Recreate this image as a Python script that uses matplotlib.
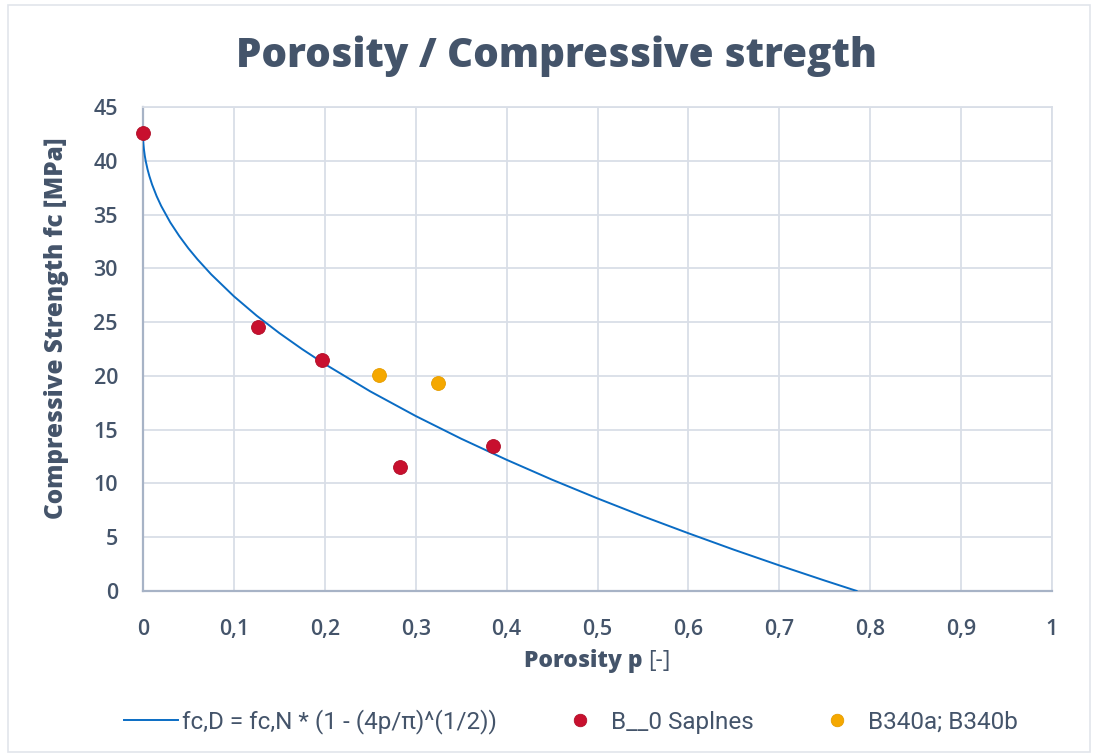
import matplotlib
matplotlib.use("Agg")
import matplotlib.pyplot as plt
from matplotlib.patches import Rectangle

# Model curve fc,D (porosity p, strength MPa)
curve_p = [0, 0.0001, 0.0002, 0.0003, 0.0005, 0.001, 0.002, 0.003, 0.005, 0.007, 0.01,
           0.015, 0.02, 0.03, 0.04, 0.05, 0.06, 0.075, 0.1, 0.125, 0.15, 0.175, 0.2,
           0.25, 0.3, 0.35, 0.4, 0.45, 0.5, 0.55, 0.6, 0.65, 0.7, 0.75, 0.785]
curve_fc = [42.6, 42.12, 41.92, 41.77, 41.53, 41.08, 40.45, 39.97, 39.20, 38.58, 37.79,
            36.71, 35.80, 34.27, 32.99, 31.85, 30.83, 29.44, 27.40, 25.60, 23.98, 22.49, 21.10,
            18.56, 16.27, 14.16, 12.20, 10.35, 8.61, 6.95, 5.37, 3.84, 2.38, 0.97, 0.01]

# B__0 Saplnes samples
b0_p = [0.0, 0.126, 0.197, 0.283, 0.385]
b0_fc = [42.6, 24.5, 21.5, 11.5, 13.5]

# B340a; B340b samples
b340_p = [0.26, 0.325]
b340_fc = [20.1, 19.3]

xticks = [0, 0.1, 0.2, 0.3, 0.4, 0.5, 0.6, 0.7, 0.8, 0.9, 1]
xticklabels = ["0", "0,1", "0,2", "0,3", "0,4", "0,5", "0,6", "0,7", "0,8", "0,9", "1"]
yticks = [0, 5, 10, 15, 20, 25, 30, 35, 40, 45]

TXT = "#44546A"
GRID = "#D9DEE7"
AX = "#A7B3C6"

plt.rcParams['font.family'] = ['Open Sans', 'DejaVu Sans']

fig = plt.figure(figsize=(10.98, 7.56), dpi=100)
fig.patches.append(Rectangle((8/1098, 1-752/756), 1082/1098, 747/756,
                             transform=fig.transFigure, fill=False,
                             edgecolor="#E1E5EB", linewidth=1.2))

ax = fig.add_axes([143/1098, 1-591/756, (1052-143)/1098, (591-107)/756])
ax.set_xlim(0, 1)
ax.set_ylim(0, 45)

ax.plot(curve_p, curve_fc, color="#0A6CC4", linewidth=1.4, zorder=3,
        label="fc,D = fc,N * (1 - (4p/π)^(1/2))")
ax.plot(b0_p, b0_fc, linestyle="none", marker="o", markersize=10,
        color="#C8102E", markeredgecolor="#B00E28", markeredgewidth=0.6,
        zorder=4, label="B__0 Saplnes", clip_on=False)
ax.plot(b340_p, b340_fc, linestyle="none", marker="o", markersize=10,
        color="#F5A800", markeredgecolor="#E59C00", markeredgewidth=0.6,
        zorder=4, label="B340a; B340b", clip_on=False)

ax.set_xticks(xticks)
ax.set_xticklabels(xticklabels)
ax.set_yticks(yticks)
ax.grid(True, color=GRID, linewidth=1.3, zorder=0)
ax.set_axisbelow(True)
for s in ["top", "right"]:
    ax.spines[s].set_color(GRID)
    ax.spines[s].set_linewidth(1.3)
for s in ["left", "bottom"]:
    ax.spines[s].set_color(AX)
    ax.spines[s].set_linewidth(1.6)
ax.tick_params(length=0, labelsize=15.5, labelcolor=TXT)
for lab in ax.get_xticklabels() + ax.get_yticklabels():
    lab.set_fontweight("semibold")
ax.tick_params(axis="y", pad=18)
ax.tick_params(axis="x", pad=20)

# y-label
fig.text(57/1098, 1-328/756, "Compressive Strength fc [MPa]", rotation=90,
         ha="center", va="center", fontsize=17.5, fontweight="heavy", color=TXT)

# x-label: bold part plus regular bracket
xl1 = fig.text(598/1098, 1-661/756, "Porosity p ", ha="left", va="center",
               fontsize=16.5, fontweight="heavy", color=TXT)
xl2 = fig.text(598/1098, 1-661/756, "[-]", ha="left", va="center",
               fontsize=16.5, fontweight="normal", color=TXT)
fig.canvas.draw()
r = fig.canvas.get_renderer()
w1 = xl1.get_window_extent(r).width
w2 = xl2.get_window_extent(r).width
cx = 597
left = cx - (w1 + w2) / 2
xl1.set_position((left / 1098, 1-661/756))
xl2.set_position(((left + w1) / 1098, 1-661/756))

fig.text(556/1098, 1-56/756, "Porosity / Compressive stregth", ha="center", va="center",
         fontsize=29, fontweight="heavy", color=TXT)

leg = fig.legend(loc="center", bbox_to_anchor=(571/1098, 1-722/756), ncol=3, frameon=False,
                 prop={'family': ['Roboto', 'DejaVu Sans'], 'size': 17.5},
                 handlelength=2.2, columnspacing=2.35, handletextpad=0.15, markerscale=0.9)
for t in leg.get_texts():
    t.set_color(TXT)

fig.savefig("out.png", dpi=100)
